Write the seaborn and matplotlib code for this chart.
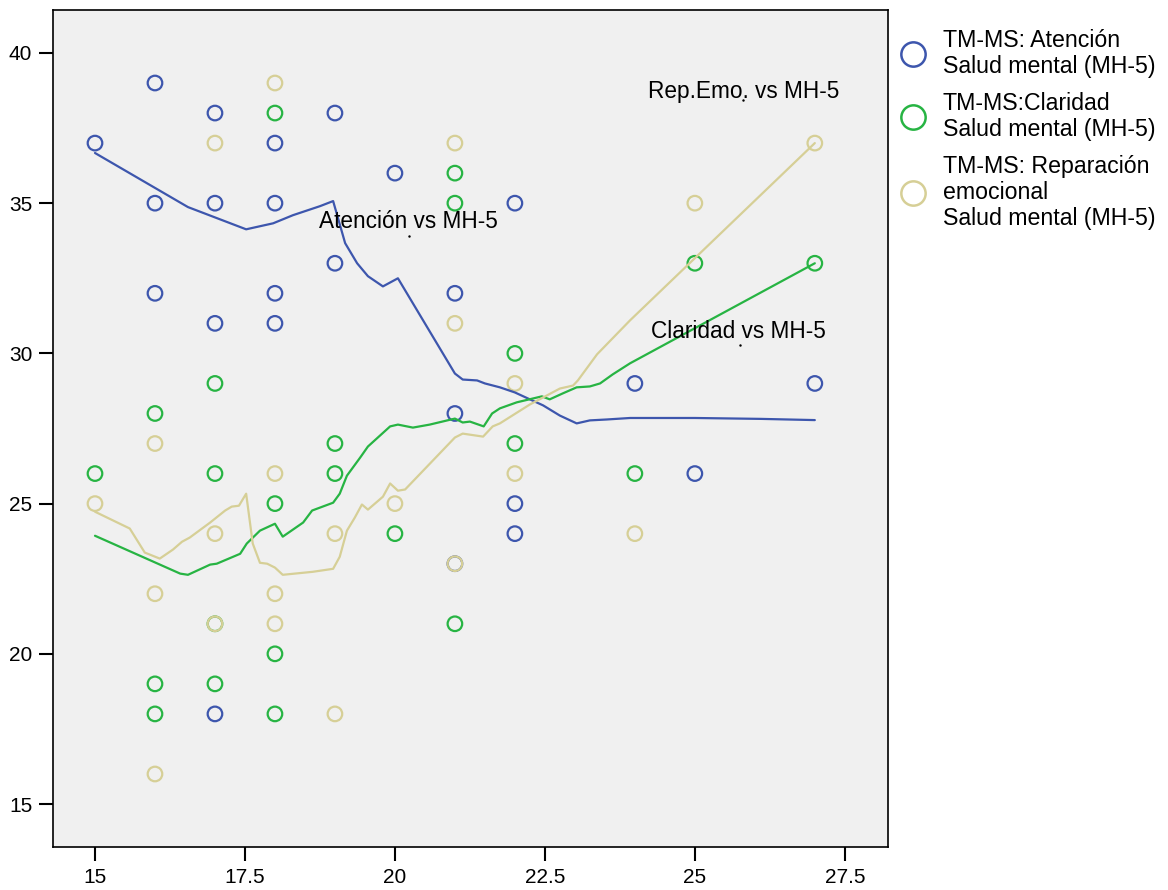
import seaborn as sns
import pandas as pd
import matplotlib.pyplot as plt
from matplotlib.lines import Line2D

sns.set_style("white")
plt.rcParams['font.family'] = ['Liberation Sans', 'DejaVu Sans']
plt.rcParams['text.color'] = 'black'
plt.rcParams['xtick.color'] = 'black'
plt.rcParams['ytick.color'] = 'black'

# scatter points (x = TM-MS score, y = Salud mental MH-5)
aten_x = [15, 16, 16, 16, 17, 17, 17, 17, 18, 18, 18, 18, 19, 19, 20, 21, 21, 21, 22, 22, 22, 24, 25, 27]
aten_y = [37, 39, 35, 32, 38, 35, 31, 18, 37, 35, 32, 31, 38, 33, 36, 32, 28, 23, 35, 25, 24, 29, 26, 29]

clar_x = [15, 16, 16, 16, 17, 17, 17, 17, 18, 18, 18, 18, 19, 19, 20, 21, 21, 21, 22, 22, 24, 25, 27]
clar_y = [26, 28, 19, 18, 29, 26, 21, 19, 38, 25, 20, 18, 27, 26, 24, 36, 35, 21, 30, 27, 26, 33, 33]

rep_x = [15, 16, 16, 16, 17, 17, 17, 18, 18, 18, 18, 19, 19, 20, 21, 21, 21, 22, 22, 24, 25, 27]
rep_y = [25, 27, 22, 16, 37, 24, 21, 39, 26, 22, 21, 24, 18, 25, 37, 31, 23, 29, 26, 24, 35, 37]

# fitted (loess) curves
aten_fit_x = [15.0, 16.55, 17.52, 17.97, 18.3, 18.75, 18.97, 19.17, 19.37, 19.55, 19.8, 20.05,
              21.0, 21.13, 21.37, 21.5, 21.75, 22.0, 22.25, 22.47, 22.75, 23.03, 23.25, 23.53,
              23.92, 25.0, 26.1, 27.0]
aten_fit_y = [36.67, 34.87, 34.13, 34.33, 34.6, 34.9, 35.07, 33.67, 33.0, 32.57, 32.23, 32.5,
              29.33, 29.13, 29.1, 29.0, 28.87, 28.7, 28.47, 28.27, 27.93, 27.67, 27.77, 27.8,
              27.85, 27.85, 27.82, 27.78]

clar_fit_x = [15.0, 16.42, 16.55, 16.92, 17.03, 17.42, 17.53, 17.75, 18.0, 18.13, 18.47, 18.62,
              18.97, 19.08, 19.2, 19.42, 19.55, 19.92, 20.05, 20.3, 20.58, 21.0, 21.13, 21.25,
              21.48, 21.62, 21.75, 22.03, 22.45, 22.58, 22.8, 23.03, 23.25, 23.42, 23.63, 23.92,
              27.0]
clar_fit_y = [23.93, 22.67, 22.63, 22.97, 23.0, 23.33, 23.67, 24.1, 24.33, 23.9, 24.37, 24.77,
              25.03, 25.33, 25.93, 26.53, 26.9, 27.57, 27.63, 27.53, 27.63, 27.83, 27.7, 27.73,
              27.57, 28.0, 28.17, 28.37, 28.57, 28.47, 28.67, 28.87, 28.9, 29.0, 29.3, 29.67,
              33.0]

rep_fit_x = [15.0, 15.58, 15.83, 16.08, 16.3, 16.45, 16.58, 16.92, 17.17, 17.28, 17.4, 17.52,
             17.63, 17.75, 17.87, 18.0, 18.13, 18.63, 18.97, 19.08, 19.2, 19.33, 19.45, 19.55,
             19.8, 19.92, 20.05, 20.17, 21.0, 21.13, 21.47, 21.63, 21.75, 22.25, 22.75, 22.97,
             23.05, 23.37, 23.92, 27.0]
rep_fit_y = [24.73, 24.17, 23.37, 23.17, 23.47, 23.73, 23.87, 24.37, 24.77, 24.9, 24.93, 25.33,
             23.67, 23.03, 23.0, 22.87, 22.63, 22.73, 22.83, 23.23, 24.1, 24.53, 24.97, 24.8,
             25.23, 25.67, 25.43, 25.47, 27.2, 27.33, 27.23, 27.57, 27.67, 28.3, 28.83, 28.93,
             29.1, 29.97, 31.1, 37.0]

series = ["Atención", "Claridad", "Reparación"]
colors = {"Atención": "#3d56ad", "Claridad": "#27b443", "Reparación": "#d6cf96"}
legend_labels = ["TM-MS: Atención\nSalud mental (MH-5)",
                 "TM-MS:Claridad\nSalud mental (MH-5)",
                 "TM-MS: Reparación\nemocional\nSalud mental (MH-5)"]

pts = pd.concat([
    pd.DataFrame({"x": aten_x, "y": aten_y, "s": "Atención"}),
    pd.DataFrame({"x": clar_x, "y": clar_y, "s": "Claridad"}),
    pd.DataFrame({"x": rep_x, "y": rep_y, "s": "Reparación"}),
])
fits = pd.concat([
    pd.DataFrame({"x": aten_fit_x, "y": aten_fit_y, "s": "Atención"}),
    pd.DataFrame({"x": clar_fit_x, "y": clar_fit_y, "s": "Claridad"}),
    pd.DataFrame({"x": rep_fit_x, "y": rep_fit_y, "s": "Reparación"}),
])

fig = plt.figure(figsize=(11.68, 8.9), dpi=100)
ax = fig.add_axes([53 / 1168, 1 - 847 / 890, 835 / 1168, 837 / 890])
ax.set_facecolor("#f0f0f0")

for s in series:
    sns.scatterplot(data=pts[pts["s"] == s], x="x", y="y", ax=ax, s=110,
                    facecolors="none", edgecolor=colors[s], linewidth=1.6, legend=False)
for s in series:
    sns.lineplot(data=fits[fits["s"] == s], x="x", y="y", ax=ax, color=colors[s],
                 linewidth=1.6, sort=False, estimator=None, legend=False)

ax.text(20.23, 34.17, "Atención vs MH-5", ha="center", va="baseline", fontsize=16.3)
ax.text(25.82, 38.5, "Rep.Emo. vs MH-5", ha="center", va="baseline", fontsize=16.3)
ax.text(25.73, 30.5, "Claridad vs MH-5", ha="center", va="baseline", fontsize=16.3)
ax.plot([20.23, 25.8, 25.75], [33.9, 38.43, 30.27], ls="none", marker=".", ms=1.5, color="black")

ax.set_xlim(14.3, 28.22)
ax.set_ylim(13.57, 41.43)
ax.set_xticks([15, 17.5, 20, 22.5, 25, 27.5])
ax.set_xticklabels(["15", "17.5", "20", "22.5", "25", "27.5"])
ax.set_yticks([15, 20, 25, 30, 35, 40])
ax.set_yticklabels(["15", "20", "25", "30", "35", "40"])
ax.tick_params(bottom=True, left=True, direction="out", length=10, width=1.5,
               labelsize=15, pad=5)
ax.set_xlabel("")
ax.set_ylabel("")
for sp in ax.spines.values():
    sp.set_color("black")
    sp.set_linewidth(1.2)

handles = [Line2D([], [], ls="none", marker="o", ms=17.5, mfc="none", mec=colors[s], mew=1.8)
           for s in series]
leg = fig.legend(handles, legend_labels, loc="upper left", bbox_to_anchor=(899 / 1168, 1 - 29 / 890),
                 frameon=False, fontsize=16.7, handletextpad=0.68, labelspacing=0.6, borderpad=0,
                 borderaxespad=0, handlelength=1.2)
for t in leg.get_texts():
    t.set_linespacing(1.17)

fig.savefig("out.png", dpi=100)
